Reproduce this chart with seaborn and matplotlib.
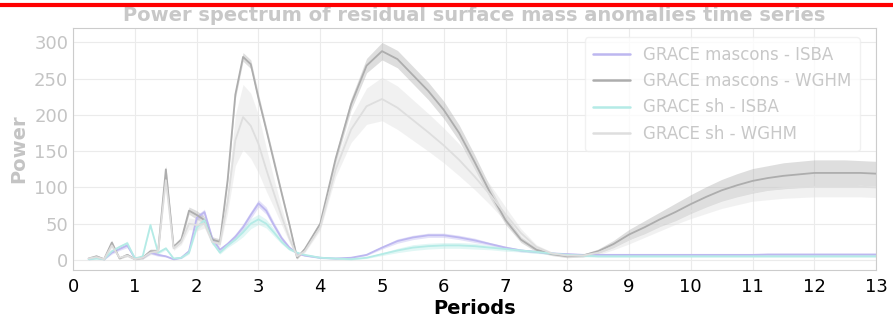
import numpy as np
import pandas as pd
import seaborn as sns
import matplotlib.pyplot as plt
from matplotlib.lines import Line2D

periods = [0.25, 0.375, 0.5, 0.625, 0.75, 0.875, 1.0, 1.125, 1.25, 1.375, 1.5, 1.625, 1.75, 1.875,
           2.0, 2.125, 2.25, 2.375, 2.5, 2.625, 2.75, 2.875, 3.0, 3.125, 3.25, 3.375, 3.5, 3.625, 3.75,
           4.0, 4.25, 4.5, 4.75, 5.0, 5.25, 5.5, 5.75, 6.0, 6.25, 6.5, 6.75, 7.0, 7.25, 7.5, 7.75,
           8.0, 8.25, 8.5, 8.75, 9.0, 9.25, 9.5, 9.75, 10.0, 10.25, 10.5, 10.75, 11.0, 11.25, 11.5,
           11.75, 12.0, 12.25, 12.5, 12.75, 13.0]

# mean power and half-width of the band for each comparison
mascons_isba = [1, 3, 1, 10, 15, 20, 2, 3, 10, 7, 5, 1, 3, 12, 58, 66, 30, 14, 22, 32, 45, 62, 78, 68, 48, 30, 17, 9, 6,
                3, 2, 3, 7, 17, 26, 31, 34, 34, 31, 27, 22, 17, 13, 11, 9, 8, 7, 7, 7, 7, 7, 7, 7, 7, 7, 7, 7,
                7, 7.5, 7.5, 7.5, 7.5, 7.5, 7.5, 7.5, 7.5]
mascons_isba_spread = [1, 1, 1, 2, 2, 3, 1, 1, 2, 2, 1, 1, 1, 2, 4, 4, 3, 2, 3, 4, 5, 5, 5, 5, 4, 3, 2, 1, 1,
                       1, 1, 1, 1, 2, 3, 3, 3, 3, 3, 3, 2, 2, 2, 1.5, 1.5, 1.5, 1.5, 1.5, 1.5, 1.5, 1.5, 1.5,
                       1.5, 1.5, 1.5, 1.5, 1.5, 1.5, 1.5, 1.5, 1.5, 1.5, 1.5, 1.5, 1.5, 1.5]

mascons_wghm = [2, 5, 1, 24, 2, 7, 1, 3, 12, 12, 125, 18, 28, 68, 62, 55, 28, 25, 110, 228, 280, 270, 223, 180, 136, 92, 49, 3, 15,
                50, 140, 215, 268, 288, 277, 255, 233, 207, 175, 135, 93, 55, 28, 14, 8, 5, 6, 12, 22, 35, 45, 56, 66,
                77, 87, 96, 103, 109, 113, 116, 118, 120, 120, 120, 120, 119]
mascons_wghm_spread = [1, 2, 1, 3, 1, 2, 1, 2, 3, 3, 5, 3, 4, 5, 6, 5, 4, 4, 6, 6, 6, 6, 6, 5, 5, 4, 3, 2, 2,
                       4, 6, 8, 10, 12, 12, 12, 12, 12, 11, 10, 8, 6, 4, 3, 2, 2, 2, 3, 5, 7, 9, 10, 12,
                       13, 14, 15, 16, 17, 17, 18, 18, 18, 18, 18, 17, 17]

sh_isba = [1, 2, 1, 12, 18, 23, 2, 5, 48, 10, 16, 2, 3, 10, 45, 55, 25, 10, 20, 28, 38, 50, 56, 50, 38, 25, 15, 10, 7,
           3, 2, 1, 3, 8, 13, 17, 19, 20, 20, 19, 17, 15, 13, 11, 9, 7, 6, 5, 5, 5, 5, 5, 5, 5, 5, 5, 5,
           5, 5, 5, 5, 5, 5, 5, 5, 5]
sh_isba_spread = [1, 1, 1, 2, 2, 3, 1, 1, 3, 2, 2, 1, 1, 2, 4, 4, 3, 2, 3, 4, 6, 7, 7, 6, 5, 3, 2, 1, 1,
                  1, 1, 1, 1, 2, 3, 4, 4, 4, 4, 4, 3, 3, 2, 2, 1.5, 1.5, 1.5, 1.5, 1.5, 1.5, 1.5, 1.5, 1.5,
                  1.5, 1.5, 1.5, 1.5, 1.5, 1.5, 1.5, 1.5, 1.5, 1.5, 1.5, 1.5, 1.5]

sh_wghm = [2, 4, 1, 20, 3, 6, 1, 3, 10, 12, 110, 16, 25, 50, 48, 50, 25, 22, 80, 165, 197, 185, 160, 125, 92, 60, 30, 5, 12,
           45, 125, 180, 212, 222, 210, 193, 176, 158, 138, 115, 90, 63, 37, 18, 9, 6, 6, 10, 18, 28, 38, 48, 58,
           67, 75, 83, 89, 94, 97, 99, 100, 101, 101, 101, 101, 100]
sh_wghm_spread = [1, 2, 1, 3, 1, 2, 1, 2, 3, 3, 5, 3, 4, 8, 8, 6, 4, 4, 15, 35, 45, 45, 40, 30, 20, 12, 6, 2, 2,
                  4, 10, 18, 25, 30, 30, 28, 26, 24, 22, 18, 14, 10, 6, 3, 2, 2, 2, 3, 4, 6, 7, 8, 9,
                  10, 11, 12, 13, 13, 14, 14, 14, 14, 14, 14, 14, 14]

labels = ["GRACE mascons - ISBA", "GRACE mascons - WGHM", "GRACE sh - ISBA", "GRACE sh - WGHM"]
colors = ["#bdb7f0", "#adadad", "#b4ebe6", "#dedede"]

series = [(mascons_isba, mascons_isba_spread), (mascons_wghm, mascons_wghm_spread),
          (sh_isba, sh_isba_spread), (sh_wghm, sh_wghm_spread)]

rows = []
for lab, (mean, spread) in zip(labels, series):
    for p, m, s in zip(periods, mean, spread):
        rows.append((lab, p, m - s))
        rows.append((lab, p, m))
        rows.append((lab, p, m + s))
df = pd.DataFrame(rows, columns=["series", "Periods", "Power"])

sns.set_style("whitegrid", {"grid.color": "#ebebeb", "axes.edgecolor": "#cccccc"})
plt.rcParams['font.family'] = ['DejaVu Sans']

fig = plt.figure(figsize=(8.93, 3.25), dpi=100)
ax = fig.add_axes([0.082, 0.169, 0.899, 0.745])

sns.lineplot(data=df, x="Periods", y="Power", hue="series", hue_order=labels,
             palette=dict(zip(labels, colors)), estimator="median", errorbar=("pi", 100),
             linewidth=1.3, err_kws={"alpha": 0.4, "linewidth": 0}, ax=ax)

ax.set_xlim(0, 13)
ax.set_ylim(-14, 320)
ax.set_xticks(range(0, 14))
ax.set_yticks([0, 50, 100, 150, 200, 250, 300])
ax.tick_params(axis="x", labelsize=13, colors="black", length=0, pad=6)
ax.tick_params(axis="y", labelsize=13, colors="#c4c4c4", length=0)
ax.set_xlabel("Periods", fontsize=14, fontweight="bold", color="black", labelpad=2)
ax.set_ylabel("Power", fontsize=14, fontweight="bold", color="#c4c4c4", labelpad=4)
ax.set_title("Power spectrum of residual surface mass anomalies time series",
             fontsize=14, fontweight="bold", color="#c8c8c8", pad=5)

leg = ax.legend(loc="upper right", fontsize=12, frameon=True, borderpad=0.5,
                handlelength=2.2, labelspacing=0.5, bbox_to_anchor=(0.99, 0.995))
for t in leg.get_texts():
    t.set_color("#c8c8c8")
for h in leg.get_lines():
    h.set_linewidth(1.8)
leg.get_frame().set_edgecolor("#eeeeee")
leg.get_frame().set_alpha(0.8)

fig.add_artist(Line2D([0, 1], [1 - 4.5 / 325, 1 - 4.5 / 325], color="red", linewidth=3,
                      transform=fig.transFigure))

fig.savefig("out.png", dpi=100)
